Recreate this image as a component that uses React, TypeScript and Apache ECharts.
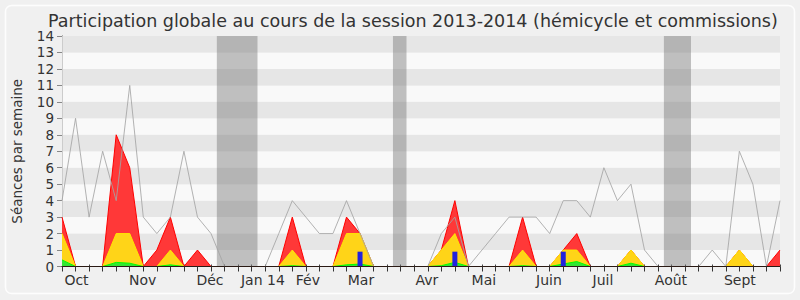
import React, { useEffect, useRef } from "react";
import * as echarts from "echarts";

// Week index 0..53 (Oct 2013 -> Sept 2014)
const weekTicks: number[] = Array.from({ length: 54 }, (_, i) => i);

const totalLine = [4, 9, 3, 7, 4, 11, 3, 2, 3, 7, 3, 2, 0, 0, 0, 0, 2, 4, 3, 2, 2, 4, 2, 0, 0, 0, 0, 0, 2, 3, 0, 1, 2, 3, 3, 3, 2, 4, 4, 3, 6, 4, 5, 1, 0, 0, 0, 0, 1, 0, 7, 5, 0, 4];
const redValues = [3, 0, 0, 0, 8, 6, 0, 1, 3, 0, 1, 0, 0, 0, 0, 0, 0, 3, 0, 0, 0, 3, 2, 0, 0, 0, 0, 0, 1, 4, 0, 0, 0, 0, 3, 0, 0, 1, 2, 0, 0, 0, 1, 0, 0, 0, 0, 0, 0, 0, 1, 0, 0, 1];
const yellowValues = [2, 0, 0, 0, 2, 2, 0, 0, 1, 0, 0, 0, 0, 0, 0, 0, 0, 1, 0, 0, 0, 2, 2, 0, 0, 0, 0, 0, 1, 2, 0, 0, 0, 0, 1, 0, 0, 1, 1, 0, 0, 0, 1, 0, 0, 0, 0, 0, 0, 0, 1, 0, 0, 0];
const greenValues = [0.4, 0, 0, 0, 0.25, 0.2, 0, 0, 0.1, 0, 0, 0, 0, 0, 0, 0, 0, 0.05, 0, 0, 0, 0.1, 0.15, 0, 0, 0, 0, 0, 0.05, 0.25, 0, 0, 0, 0, 0.05, 0, 0, 0.15, 0.3, 0, 0, 0, 0.2, 0, 0, 0, 0, 0, 0, 0, 0, 0, 0, 0];
const blueWeeks = [22, 29, 37];
const blueValues = [0.9, 0.9, 0.9];

const monthLabels = ["Oct", "Nov", "Déc", "Jan 14", "Fév", "Mar", "Avr", "Mai", "Juin", "Juil", "Août", "Sept"];
const monthPositions = [1.07, 5.95, 10.92, 14.83, 18.15, 22.07, 26.94, 31.14, 35.94, 39.93, 44.95, 50.04];
const vacations: [number, number][] = [[11.43, 14.43], [24.43, 25.43], [44.43, 46.43]];

const FONT = "DejaVu Sans";

const pairs = (vals: number[]) => vals.map((v, i) => [weekTicks[i], v]);

export default function App() {
  const ref = useRef<HTMLDivElement>(null);
  useEffect(() => {
    document.body.style.margin = "0";
    const chart = echarts.init(ref.current!, null, { renderer: "svg" });
    const areaSeries = (name: string, vals: number[], fill: string, stroke: string, z: number) => ({
      name,
      type: "line",
      data: pairs(vals),
      showSymbol: false,
      z,
      lineStyle: { color: stroke, width: 1 },
      areaStyle: { color: fill, opacity: 1 },
      silent: true,
    });
    chart.setOption({
      animation: false,
      backgroundColor: "#f0f0f0",
      title: {
        text: "Participation globale au cours de la session 2013-2014 (hémicycle et commissions)",
        left: 43,
        top: 7,
        textStyle: { fontFamily: FONT, fontSize: 17.5, fontWeight: "normal", color: "#333" },
      },
      graphic: [
        {
          type: "rect",
          shape: { x: 5.5, y: 5.5, width: 789, height: 288, r: 6 },
          style: { fill: "none", stroke: "#fdfdfd", lineWidth: 1.5 },
          z: -1,
          silent: true,
        },
      ],
      grid: { left: 62, right: 20, top: 36, bottom: 33.5 },
      xAxis: [
        {
          type: "value",
          min: 0,
          max: 53,
          position: "bottom",
          z: 10,
          axisLine: { show: true, onZero: false, lineStyle: { color: "#2a1a14", width: 1 } },
          axisTick: { show: true, customValues: weekTicks, length: 5, lineStyle: { color: "#333" } },
          axisLabel: {
            customValues: monthPositions,
            hideOverlap: false,
            formatter: (v: number) => {
              const k = monthPositions.findIndex((p) => Math.abs(p - v) < 1e-6);
              return k >= 0 ? monthLabels[k] : "";
            },
            fontFamily: FONT,
            fontSize: 14,
            color: "#333",
            margin: 6,
          },
          splitLine: { show: false },
        },
        {
          type: "value",
          min: 0,
          max: 53,
          position: "top",
          axisLine: { show: false },
          axisTick: { show: true, customValues: weekTicks, length: 2, lineStyle: { color: "#444" } },
          axisLabel: { show: false },
          splitLine: { show: false },
        },
      ],
      yAxis: [
        {
          type: "value",
          min: 0,
          max: 14,
          interval: 1,
          axisLine: { show: true, lineStyle: { color: "#222" } },
          axisTick: { show: true, length: 5, lineStyle: { color: "#888" } },
          axisLabel: { fontFamily: FONT, fontSize: 13.5, color: "#333", margin: 8 },
          splitLine: { show: false },
          splitArea: { show: true, areaStyle: { color: ["#f9f9f9", "#e6e6e6"] } },
          name: "Séances par semaine",
          nameLocation: "middle",
          nameGap: 38,
          nameTextStyle: { fontFamily: FONT, fontSize: 13.5, color: "#333" },
        },
        {
          type: "value",
          min: 0,
          max: 14,
          position: "right",
          axisLine: { show: true, lineStyle: { color: "#cccccc" } },
          axisTick: { show: false },
          axisLabel: { show: false },
          splitLine: { show: false },
        },
      ],
      series: [
        {
          name: "vacances",
          type: "line",
          data: pairs(totalLine),
          showSymbol: false,
          lineStyle: { opacity: 0 },
          z: 1,
          silent: true,
          markArea: {
            silent: true,
            itemStyle: { color: "rgba(120,120,120,0.45)" },
            data: vacations.map(([a, b]) => [{ xAxis: a }, { xAxis: b }]),
          },
        },
        areaSeries("rouge", redValues, "#ff3838", "#ff0000", 3),
        areaSeries("jaune", yellowValues, "#ffd418", "#ffe600", 4),
        areaSeries("vert", greenValues, "#33e633", "#00ff00", 5),
        {
          name: "bleu",
          type: "bar",
          data: blueWeeks.map((w, k) => [w, blueValues[k]]),
          barWidth: 5,
          itemStyle: { color: "#2222dd" },
          z: 6,
          silent: true,
        },
        {
          name: "total",
          type: "line",
          data: pairs(totalLine),
          showSymbol: false,
          lineStyle: { color: "rgba(165,165,165,0.85)", width: 1 },
          z: 7,
          silent: true,
        },
      ],
    });
    return () => chart.dispose();
  }, []);
  return <div ref={ref} style={{ width: 800, height: 300, position: "absolute", left: 0, top: 0 }} />;
}
